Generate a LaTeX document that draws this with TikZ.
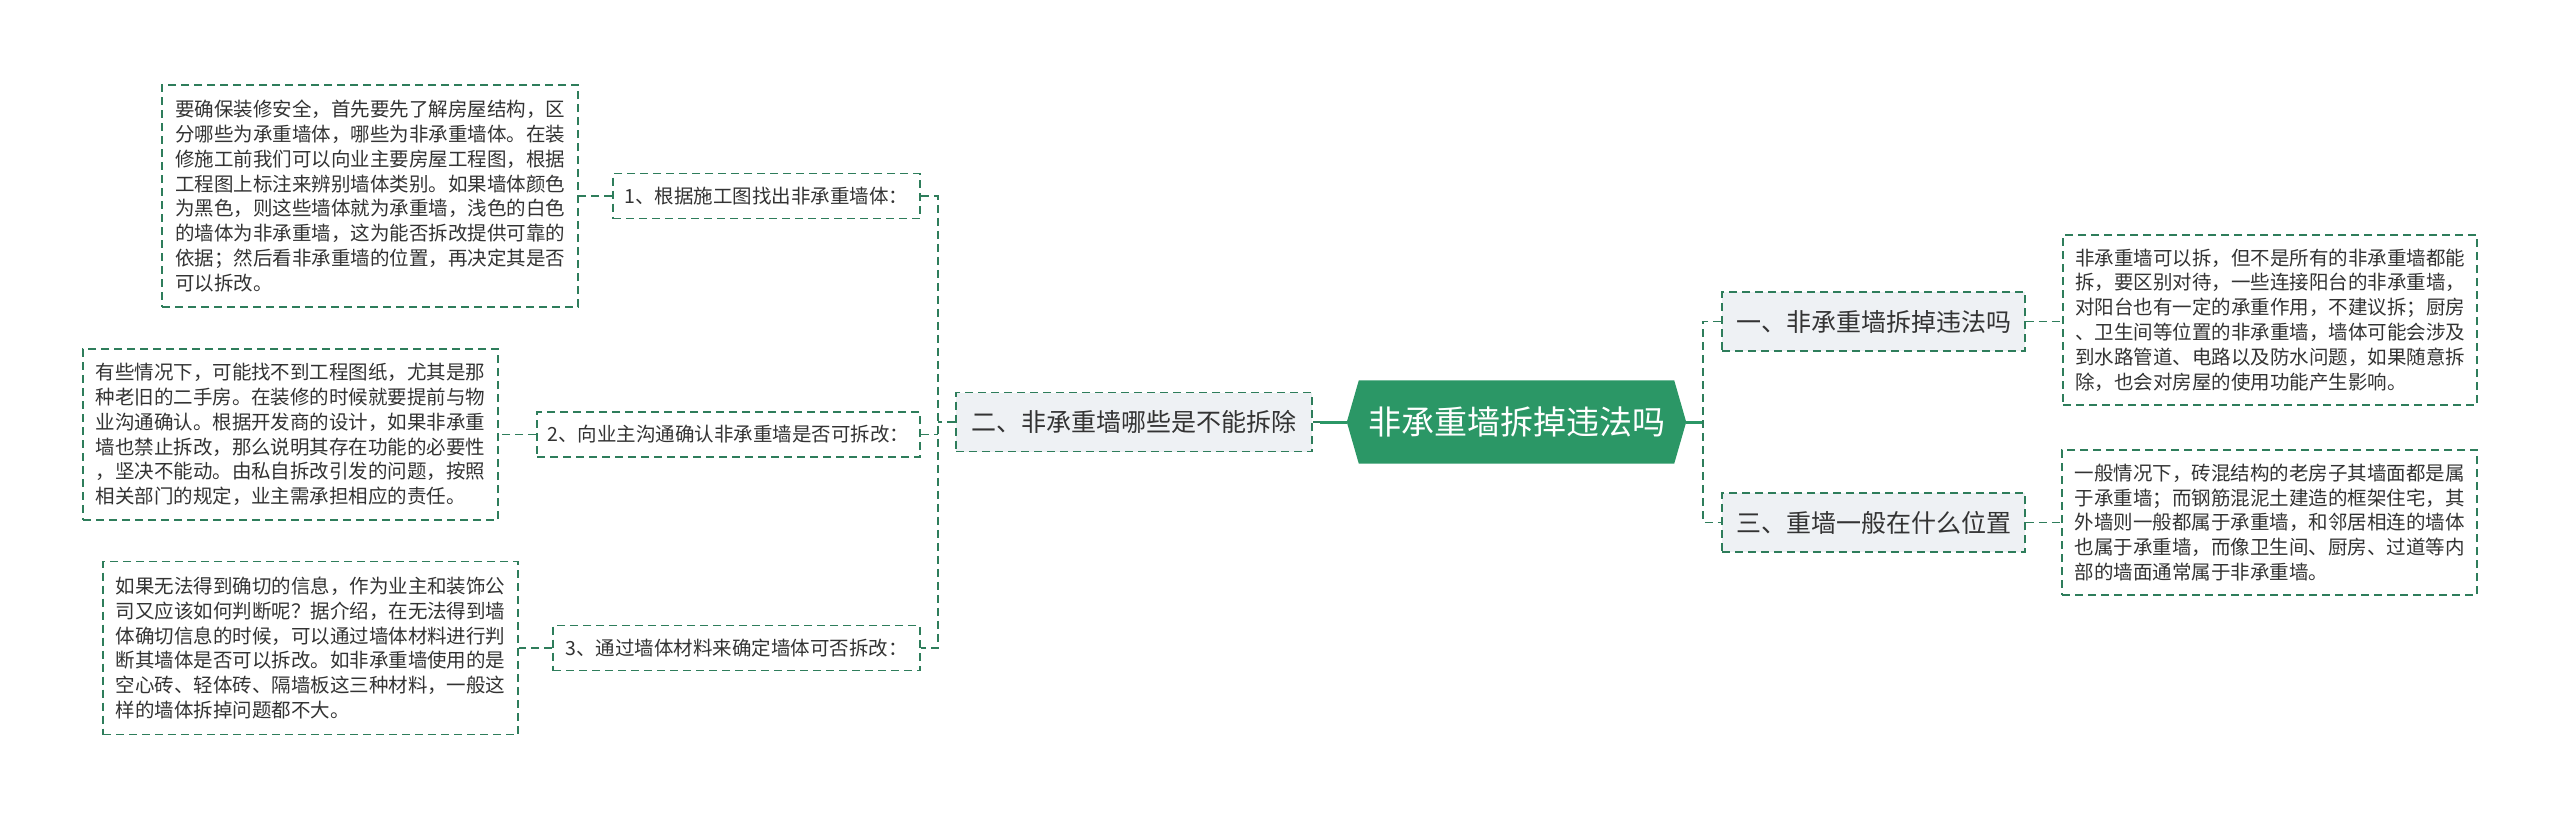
\documentclass[tikz,border=0pt]{standalone}
\usepackage{fontspec}
\setmainfont{Noto Sans CJK SC}
\usetikzlibrary{calc,backgrounds}
\definecolor{lineg}{HTML}{2E7D5B}
\definecolor{rootg}{HTML}{2B9766}
\definecolor{topicfill}{HTML}{EEF1F4}
\definecolor{txt}{HTML}{333333}
\tikzset{
  dbox/.style={draw=lineg, line width=1.6pt, dash pattern=on 8pt off 5pt, fill=white, text=txt, inner sep=0pt, align=left},
  textbox/.style={dbox, font=\fontsize{19.5}{24.8}\selectfont},
  labelbox/.style={dbox, font=\fontsize{19.5}{24}\selectfont, minimum height=45pt},
  topicbox/.style={dbox, fill=topicfill, font=\fontsize{25}{30}\selectfont, minimum height=59pt},
  dline/.style={draw=lineg, line width=1.6pt, dash pattern=on 8pt off 5pt},
  sline/.style={draw=rootg, line width=3pt},
}
\begin{document}
\begin{tikzpicture}[x=1pt,y=-1pt]
\useasboundingbox (0,0) rectangle (2560,819);

% root
\node[font=\fontsize{33}{36}\selectfont, text=white, minimum width=339pt, minimum height=83pt, inner sep=0pt] (root) at (1516.5,422) {非承重墙拆掉违法吗};

% level 1 topics
\node[topicbox, minimum width=356pt] (n2) at (1134,422) {二、非承重墙哪些是不能拆除};
\node[topicbox, minimum width=303pt] (n1) at (1873.5,321.5) {一、非承重墙拆掉违法吗};
\node[topicbox, minimum width=303pt] (n3) at (1873.5,522.5) {三、重墙一般在什么位置};

% left labels
\node[labelbox, minimum width=307pt] (lb1) at (766.5,196) {1、根据施工图找出非承重墙体：};
\node[labelbox, minimum width=383pt] (lb2) at (728.5,434.5) {2、向业主沟通确认非承重墙是否可拆改：};
\node[labelbox, minimum width=367pt] (lb3) at (736.5,648) {3、通过墙体材料来确定墙体可否拆改：};

% text boxes
\node[textbox, minimum width=416pt, minimum height=222pt] (t1) at (370,196) {要确保装修安全，首先要先了解房屋结构，区\\分哪些为承重墙体，哪些为非承重墙体。在装\\修施工前我们可以向业主要房屋工程图，根据\\工程图上标注来辨别墙体类别。如果墙体颜色\\为黑色，则这些墙体就为承重墙，浅色的白色\\的墙体为非承重墙，这为能否拆改提供可靠的\\依据；然后看非承重墙的位置，再决定其是否\\可以拆改。};
\node[textbox, minimum width=415pt, minimum height=171pt] (t2) at (290.5,434.5) {有些情况下，可能找不到工程图纸，尤其是那\\种老旧的二手房。在装修的时候就要提前与物\\业沟通确认。根据开发商的设计，如果非承重\\墙也禁止拆改，那么说明其存在功能的必要性\\，坚决不能动。由私自拆改引发的问题，按照\\相关部门的规定，业主需承担相应的责任。};
\node[textbox, minimum width=415pt, minimum height=173pt] (t3) at (310.5,648) {如果无法得到确切的信息，作为业主和装饰公\\司又应该如何判断呢？据介绍，在无法得到墙\\体确切信息的时候，可以通过墙体材料进行判\\断其墙体是否可以拆改。如非承重墙使用的是\\空心砖、轻体砖、隔墙板这三种材料，一般这\\样的墙体拆掉问题都不大。};
\node[textbox, minimum width=414pt, minimum height=170pt] (r1) at (2270,320) {非承重墙可以拆，但不是所有的非承重墙都能\\拆，要区别对待，一些连接阳台的非承重墙，\\对阳台也有一定的承重作用，不建议拆；厨房\\、卫生间等位置的非承重墙，墙体可能会涉及\\到水路管道、电路以及防水问题，如果随意拆\\除，也会对房屋的使用功能产生影响。};
\node[textbox, minimum width=415pt, minimum height=145pt] (r2) at (2269.5,522.5) {一般情况下，砖混结构的老房子其墙面都是属\\于承重墙；而钢筋混泥土建造的框架住宅，其\\外墙则一般都属于承重墙，和邻居相连的墙体\\也属于承重墙，而像卫生间、厨房、过道等内\\部的墙面通常属于非承重墙。};

% coordinates
\coordinate (lj) at (1320,422);
\coordinate (ltrunk) at (938,422);
\coordinate (rtrunk) at (1703,422);

% connectors
\draw[sline] (root.west) -- (lj);
\draw[dline] (lj) -- (n2.east);
\draw[dline] (n2.west) -- (ltrunk);
\draw[dline] (lb1.east) -- (lb1.east -| ltrunk) -- (lb3.east -| ltrunk) -- (lb3.east);
\draw[dline] (lb2.east) -- (lb2.east -| ltrunk);
\draw[dline] (lb1.west) -- (lb1.west -| t1.east);
\draw[dline] (lb2.west) -- (lb2.west -| t2.east);
\draw[dline] (lb3.west) -- (lb3.west -| t3.east);

\draw[sline] (root.east) -- (rtrunk);
\draw[dline] (n1.west) -- (n1.west -| rtrunk) -- (n3.west -| rtrunk) -- (n3.west);
\draw[dline] (n1.east) -- (n1.east -| r1.west);
\draw[dline] (n3.east) -- (n3.east -| r2.west);

\begin{scope}[on background layer]
\fill[white] (0,0) rectangle (2560,819);
\fill[rootg] (root.west) -- ([xshift=12pt]root.north west) -- ([xshift=-12pt]root.north east) -- (root.east) -- ([xshift=-12pt]root.south east) -- ([xshift=12pt]root.south west) -- cycle;
\end{scope}
\end{tikzpicture}
\end{document}
